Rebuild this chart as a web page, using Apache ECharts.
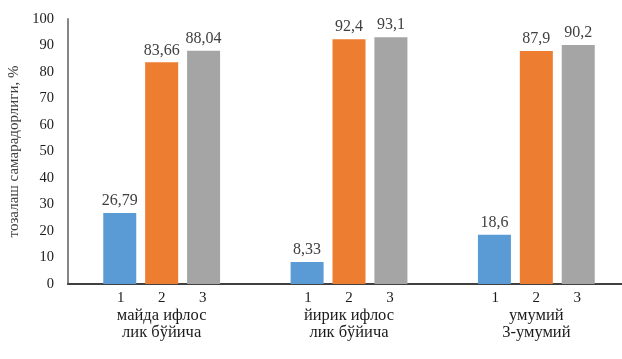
<!DOCTYPE html>
<html>
<head>
<meta charset="utf-8">
<script src="https://cdn.jsdelivr.net/npm/echarts@6/dist/echarts.min.js"></script>
<style>
html,body{margin:0;padding:0;background:#fff;}
#c{width:622px;height:359px;}
</style>
</head>
<body>
<div id="c"></div>
<script>
const categories = ['майда ифлос\nлик бўйича', 'йирик ифлос\nлик бўйича', 'умумий\n3-умумий'];
const subLabels = ['1', '2', '3'];
const series1 = [26.79, 8.33, 18.6];
const series2 = [83.66, 92.4, 87.9];
const series3 = [88.04, 93.1, 90.2];
const yTicks = { min: 0, max: 100, interval: 10 };
const yName = 'тозалаш самарадорлиги, %';

const FONT = '"Liberation Serif", "DejaVu Serif", serif';
const colors = ['#5B9BD5', '#ED7D31', '#A5A5A5'];

function fmtVal(v) { return String(v).replace('.', ','); }

const chart = echarts.init(document.getElementById('c'), null, { renderer: 'canvas' });
const mk = (data, i) => ({
  type: 'bar',
  data: data,
  barWidth: 33,
  barGap: '27%',
  itemStyle: { color: colors[i] },
  label: {
    show: true,
    position: 'top',
    distance: 4,
    fontFamily: FONT,
    fontSize: 16,
    color: '#404040',
    formatter: p => fmtVal(p.value)
  },
  emphasis: { disabled: true }
});

chart.setOption({
  animation: false,
  backgroundColor: '#fff',
  grid: { left: 68, width: 562, top: 19, height: 265, containLabel: false, outerBoundsMode: 'none' },
  xAxis: {
    type: 'category',
    data: categories,
    axisLine: { show: true, lineStyle: { color: '#404040', width: 2 } },
    axisTick: { show: false },
    axisLabel: {
      interval: 0,
      margin: 5,
      fontFamily: FONT,
      color: '#1a1a1a',
      formatter: v => {
        const nums = subLabels.map(s => '{n|' + s + '}').join('');
        const lines = v.split('\n').map(l => '{g|' + l + '}').join('\n');
        return nums + '\n' + lines;
      },
      rich: {
        n: { width: 41, align: 'center', fontFamily: FONT, fontSize: 15, lineHeight: 18, color: '#1a1a1a' },
        g: { fontFamily: FONT, fontSize: 16.5, lineHeight: 17, color: '#1a1a1a' }
      }
    }
  },
  yAxis: {
    type: 'value',
    min: yTicks.min,
    max: yTicks.max,
    interval: yTicks.interval,
    name: yName,
    nameLocation: 'middle',
    nameGap: 42,
    nameTextStyle: { fontFamily: FONT, fontSize: 15, color: '#404040' },
    axisLine: { show: true, lineStyle: { color: '#868686', width: 2 } },
    axisTick: { show: false },
    splitLine: { show: false },
    axisLabel: { margin: 14, fontFamily: FONT, fontSize: 14.5, color: '#1a1a1a' }
  },
  series: [mk(series1, 0), mk(series2, 1), mk(series3, 2)]
});
</script>
</body>
</html>
